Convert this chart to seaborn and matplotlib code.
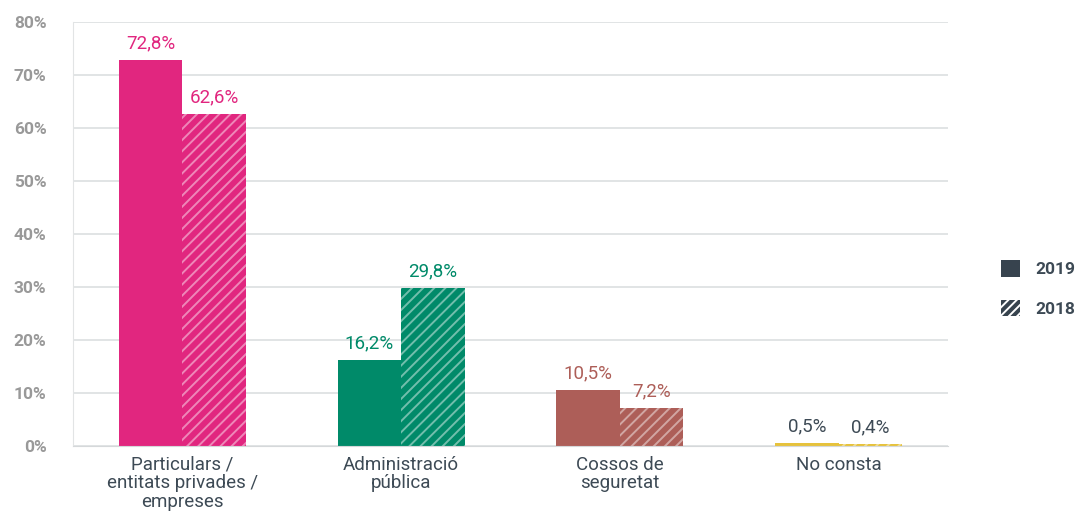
import pandas as pd
import seaborn as sns
import matplotlib.pyplot as plt
from matplotlib.patches import Patch

categories = ["Particulars /\nentitats privades /\nempreses", "Administració\npública",
              "Cossos de\nseguretat", "No consta"]
values_2019 = [72.8, 16.2, 10.5, 0.5]
values_2018 = [62.6, 29.8, 7.2, 0.4]
years = ["2019", "2018"]
bar_colors = ["#e1267f", "#008a69", "#ad5e58", "#e6c23c"]
label_colors = ["#e1267f", "#008a69", "#ad5e58", "#3d4a55"]

df = pd.DataFrame({
    "cat": categories * 2,
    "year": [years[0]] * 4 + [years[1]] * 4,
    "val": values_2019 + values_2018,
})

sns.set_style("white")
plt.rcParams["font.family"] = ["Roboto", "DejaVu Sans"]
plt.rcParams["hatch.linewidth"] = 1.4

fig = plt.figure(figsize=(10.78, 5.15), dpi=100)
ax = fig.add_axes([73 / 1078, 1 - 446 / 515, 875 / 1078, 424 / 515])

sns.barplot(data=df, x="cat", y="val", hue="year", hue_order=years,
            order=categories, width=0.58, gap=0, ax=ax, legend=False,
            saturation=1)

for j, cont in enumerate(ax.containers):
    for i, bar in enumerate(cont):
        bar.set_facecolor(bar_colors[i])
        bar.set_linewidth(0)
        if j == 1:
            bar.set_hatch("///")
            bar.set_edgecolor((1, 1, 1, 0.45))
        vals = values_2019 if j == 0 else values_2018
        ax.text(bar.get_x() + bar.get_width() / 2, bar.get_height() + 1.5,
                f"{vals[i]:.1f}%".replace(".", ","), ha="center", va="bottom",
                color=label_colors[i], fontsize=13.5)

ax.set_xlim(-0.5, 3.5)
ax.set_ylim(0, 80)
ax.set_yticks(range(0, 81, 10))
ax.set_yticklabels([f"{v}%" for v in range(0, 81, 10)], fontweight="bold",
                   color="#999999", fontsize=12.5)
ax.set_xticks(range(4))
ax.set_xticklabels(categories, color="#3d4a55", fontsize=13.5, linespacing=1.05)
ax.set_xticks([0.5, 1.5, 2.5], minor=True)
ax.tick_params(axis="x", which="major", length=0, pad=7)
ax.tick_params(axis="x", which="minor", length=6, color="#d5d8da", direction="out")
ax.tick_params(axis="y", length=6, color="#dcdfe0", pad=13)
ax.grid(axis="y", color="#dcdfe0", lw=1.2)
ax.set_axisbelow(True)
ax.set_xlabel("")
ax.set_ylabel("")
for s in ["top", "right"]:
    ax.spines[s].set_visible(False)
ax.spines["left"].set_color("#e2e4e5")
ax.spines["bottom"].set_color("#d5d8da")

handles = [Patch(facecolor="#37434e", edgecolor="#37434e", lw=0),
           Patch(facecolor="#37434e", edgecolor="white", hatch="////", lw=0)]
leg = fig.legend(handles, years, loc="center left", bbox_to_anchor=(0.914, 0.44),
                 frameon=False, handlelength=1.1, handleheight=1.1, labelspacing=1.3,
                 handletextpad=0.9, prop={"weight": "bold", "size": 12.5})
for t in leg.get_texts():
    t.set_color("#3d4a55")

fig.savefig("out.png", dpi=100)
